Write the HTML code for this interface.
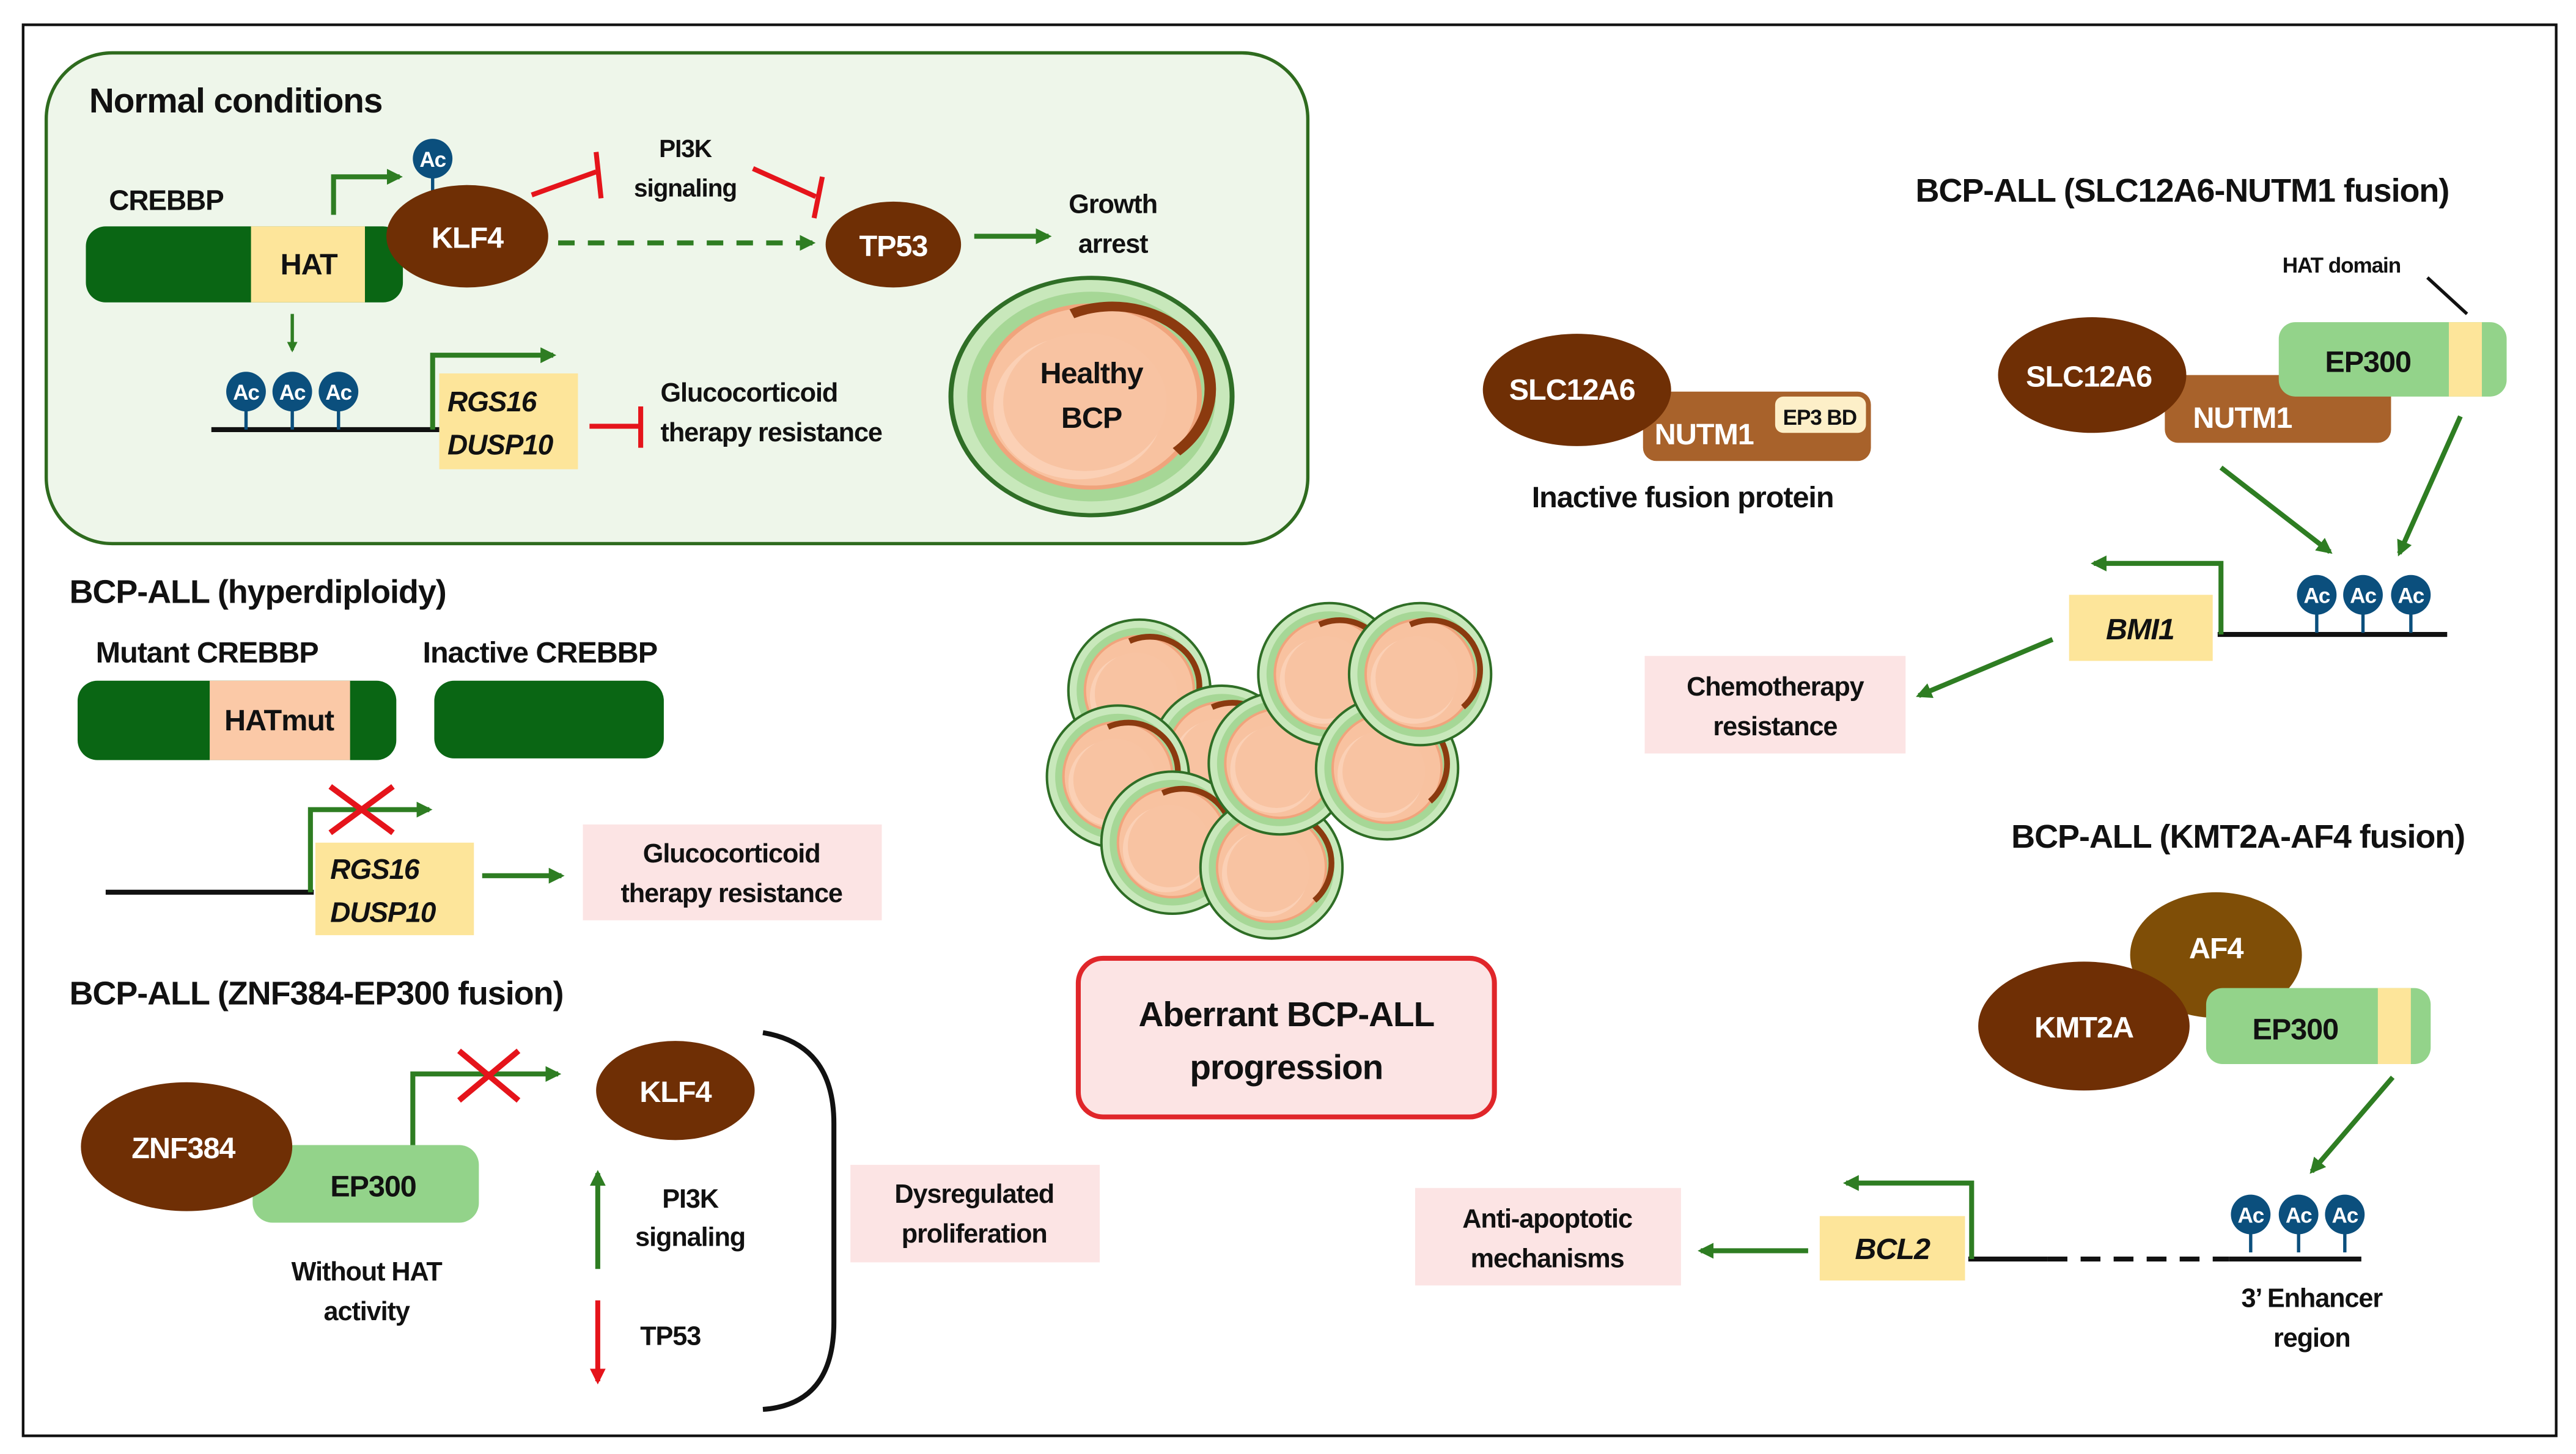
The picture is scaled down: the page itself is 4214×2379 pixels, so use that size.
<!DOCTYPE html>
<html><head><meta charset="utf-8"><style>
html,body{margin:0;padding:0;background:#fff;}
svg{display:block;}
text{font-family:"Liberation Sans Narrow","Liberation Sans",sans-serif;font-weight:bold;fill:#111;letter-spacing:-0.4px;}
.w{fill:#fff;}
.c{text-anchor:middle;}
.i{font-style:italic;}
</style></head><body>
<svg width="4214" height="2379" viewBox="0 0 1560 880" preserveAspectRatio="none" xmlns="http://www.w3.org/2000/svg">
<defs>
<marker id="ag" viewBox="0 0 10 10" refX="8" refY="5" markerWidth="3.2" markerHeight="3.2" orient="auto"><path d="M0,0L10,5L0,10z" fill="#2e7d22"/></marker>
<marker id="ar" viewBox="0 0 10 10" refX="8" refY="5" markerWidth="3.2" markerHeight="3.2" orient="auto"><path d="M0,0L10,5L0,10z" fill="#e5141b"/></marker>
<symbol id="cell" viewBox="-45 -45 90 90" overflow="visible">
<circle r="43" fill="#c8e8bb" stroke="#2f6e26" stroke-width="1.5"/>
<circle r="38" fill="#a6d796"/>
<circle r="33" fill="#f8c2a0" stroke="#f0a47c" stroke-width="1.5"/>
<circle cx="-4" cy="4" r="26" fill="#fbd0b5"/>
<circle cx="-2" cy="2" r="25" fill="#f8c3a2"/>
<path d="M-6,-30 A30 30 0 0 1 26,20" stroke="#8b3a0f" stroke-width="3.5" fill="none"/>
</symbol>
<g id="ac"><line x1="0" y1="0" x2="0" y2="23" stroke="#0b4f7d" stroke-width="2"/><circle r="12" fill="#0b4f7d"/><text class="w c" y="5" font-size="13">Ac</text></g>
</defs>
<rect x="0" y="0" width="1560" height="880" fill="#fff"/>
<rect x="14" y="15" width="1534" height="854" fill="none" stroke="#111" stroke-width="1.6"/>

<rect x="28" y="32" width="764" height="297" rx="40" fill="#eef6ea" stroke="#2e6b1e" stroke-width="2"/>
<text x="54" y="68" font-size="21">Normal conditions</text>
<text x="66" y="127" font-size="17">CREBBP</text>
<rect x="52" y="137" width="192" height="46" rx="12" fill="#0a6614"/>
<rect x="152" y="137" width="69" height="46" fill="#fde59a"/>
<text class="c" x="187" y="166" font-size="18">HAT</text>
<path d="M202,130 V107 H242" stroke="#2e7d22" stroke-width="3" fill="none" marker-end="url(#ag)"/>
<use href="#ac" x="262" y="96"/>
<ellipse cx="283" cy="143" rx="49" ry="31" fill="#6f2f05"/>
<text class="w c" x="283" y="150" font-size="18">KLF4</text>
<line x1="322" y1="118" x2="361" y2="104" stroke="#e5141b" stroke-width="3"/>
<line x1="361" y1="92" x2="364" y2="120" stroke="#e5141b" stroke-width="3"/>
<text class="c" x="415" y="95" font-size="15">PI3K</text>
<text class="c" x="415" y="119" font-size="15">signaling</text>
<line x1="456" y1="102" x2="494" y2="119" stroke="#e5141b" stroke-width="3"/>
<line x1="498" y1="107" x2="493" y2="132" stroke="#e5141b" stroke-width="3"/>
<line x1="338" y1="147" x2="492" y2="147" stroke="#2e7d22" stroke-width="3" stroke-dasharray="10,8" marker-end="url(#ag)"/>
<ellipse cx="541" cy="148" rx="41" ry="26" fill="#6f2f05"/>
<text class="w c" x="541" y="155" font-size="18">TP53</text>
<line x1="590" y1="143" x2="635" y2="143" stroke="#2e7d22" stroke-width="3" marker-end="url(#ag)"/>
<text class="c" x="674" y="129" font-size="16">Growth</text>
<text class="c" x="674" y="153" font-size="16">arrest</text>
<g transform="translate(661,240) scale(1.98,1.67)"><use href="#cell" x="-45" y="-45" width="90" height="90"/></g>
<text class="c" x="661" y="232" font-size="18">Healthy</text>
<text class="c" x="661" y="259" font-size="18">BCP</text>
<line x1="177" y1="190" x2="177" y2="212" stroke="#2e7d22" stroke-width="2" marker-end="url(#ag)"/>
<line x1="128" y1="260" x2="268" y2="260" stroke="#111" stroke-width="3"/>
<use href="#ac" x="149" y="237"/><use href="#ac" x="177" y="237"/><use href="#ac" x="205" y="237"/>
<path d="M262,260 V215 H335" stroke="#2e7d22" stroke-width="3" fill="none" marker-end="url(#ag)"/>
<rect x="266" y="226" width="84" height="58" fill="#fde59a"/>
<text class="i" x="271" y="249" font-size="17">RGS16</text>
<text class="i" x="271" y="275" font-size="17">DUSP10</text>
<line x1="357" y1="258" x2="387" y2="258" stroke="#e5141b" stroke-width="3"/>
<line x1="388" y1="246" x2="388" y2="271" stroke="#e5141b" stroke-width="3"/>
<text x="400" y="243" font-size="16">Glucocorticoid</text>
<text x="400" y="267" font-size="16">therapy resistance</text>

<text x="42" y="365" font-size="20">BCP-ALL (hyperdiploidy)</text>
<text x="58" y="401" font-size="18">Mutant CREBBP</text>
<text x="256" y="401" font-size="18">Inactive CREBBP</text>
<rect x="47" y="412" width="193" height="48" rx="12" fill="#0a6614"/>
<rect x="127" y="412" width="85" height="48" fill="#fbc9a7"/>
<text class="c" x="169" y="442" font-size="18">HATmut</text>
<rect x="263" y="412" width="139" height="47" rx="12" fill="#0a6614"/>
<line x1="64" y1="540" x2="190" y2="540" stroke="#111" stroke-width="3"/>
<path d="M188,540 V490 H260" stroke="#2e7d22" stroke-width="3" fill="none" marker-end="url(#ag)"/>
<path d="M200,476 L238,504 M238,476 L200,504" stroke="#e5141b" stroke-width="3.5"/>
<rect x="191" y="510" width="96" height="56" fill="#fde59a"/>
<text class="i" x="200" y="532" font-size="17">RGS16</text>
<text class="i" x="200" y="558" font-size="17">DUSP10</text>
<line x1="292" y1="530" x2="340" y2="530" stroke="#2e7d22" stroke-width="3" marker-end="url(#ag)"/>
<rect x="353" y="499" width="181" height="58" fill="#fce4e4"/>
<text class="c" x="443" y="522" font-size="16">Glucocorticoid</text>
<text class="c" x="443" y="546" font-size="16">therapy resistance</text>

<text x="42" y="608" font-size="20">BCP-ALL (ZNF384-EP300 fusion)</text>
<rect x="153" y="693" width="137" height="47" rx="12" fill="#93d38a"/>
<ellipse cx="113" cy="694" rx="64" ry="39" fill="#6f2f05"/>
<text class="w c" x="111" y="701" font-size="18">ZNF384</text>
<text class="c" x="226" y="724" font-size="18">EP300</text>
<path d="M250,693 V650 H338" stroke="#2e7d22" stroke-width="3" fill="none" marker-end="url(#ag)"/>
<path d="M278,636 L314,666 M314,636 L278,666" stroke="#e5141b" stroke-width="3.5"/>
<ellipse cx="409" cy="660" rx="48" ry="30" fill="#6f2f05"/>
<text class="w c" x="409" y="667" font-size="18">KLF4</text>
<text class="c" x="222" y="775" font-size="16">Without HAT</text>
<text class="c" x="222" y="799" font-size="16">activity</text>
<line x1="362" y1="768" x2="362" y2="710" stroke="#2e7d22" stroke-width="3" marker-end="url(#ag)"/>
<text class="c" x="418" y="731" font-size="16">PI3K</text>
<text class="c" x="418" y="754" font-size="16">signaling</text>
<line x1="362" y1="787" x2="362" y2="836" stroke="#e5141b" stroke-width="3" marker-end="url(#ar)"/>
<text class="c" x="406" y="814" font-size="16">TP53</text>
<path d="M462,625 Q505,632 505,680 V800 Q505,850 462,853" stroke="#111" stroke-width="3" fill="none"/>
<rect x="515" y="705" width="151" height="59" fill="#fce4e4"/>
<text class="c" x="590" y="728" font-size="16">Dysregulated</text>
<text class="c" x="590" y="752" font-size="16">proliferation</text>

<g>
<use href="#cell" x="645" y="373" width="90" height="90"/>
<use href="#cell" x="695" y="413" width="90" height="90"/>
<use href="#cell" x="632" y="425" width="90" height="90"/>
<use href="#cell" x="665" y="465" width="90" height="90"/>
<use href="#cell" x="725" y="480" width="90" height="90"/>
<use href="#cell" x="730" y="417" width="90" height="90"/>
<use href="#cell" x="760" y="363" width="90" height="90"/>
<use href="#cell" x="795" y="420" width="90" height="90"/>
<use href="#cell" x="815" y="363" width="90" height="90"/>
</g>
<rect x="653" y="580" width="252" height="96" rx="15" fill="#fce4e4" stroke="#e0262a" stroke-width="3"/>
<text class="c" x="779" y="621" font-size="21">Aberrant BCP-ALL</text>
<text class="c" x="779" y="653" font-size="21">progression</text>

<rect x="995" y="237" width="138" height="42" rx="8" fill="#a8622b"/>
<rect x="1075" y="240" width="55" height="22" rx="5" fill="#fdefc8"/>
<text class="c" x="1102" y="257" font-size="13">EP3 BD</text>
<ellipse cx="955" cy="236" rx="57" ry="34" fill="#6f2f05"/>
<text class="w c" x="952" y="242" font-size="18">SLC12A6</text>
<text class="w" x="1002" y="269" font-size="18">NUTM1</text>
<text class="c" x="1019" y="307" font-size="18">Inactive fusion protein</text>

<text x="1160" y="122" font-size="20">BCP-ALL (SLC12A6-NUTM1 fusion)</text>
<text class="c" x="1418" y="165" font-size="13">HAT domain</text>
<line x1="1470" y1="168" x2="1494" y2="190" stroke="#111" stroke-width="2"/>
<rect x="1311" y="227" width="137" height="41" rx="8" fill="#a8622b"/>
<rect x="1380" y="195" width="138" height="45" rx="10" fill="#93d38a"/>
<rect x="1483" y="195" width="20" height="45" fill="#fde59a"/>
<ellipse cx="1267" cy="227" rx="57" ry="35" fill="#6f2f05"/>
<text class="w c" x="1265" y="234" font-size="18">SLC12A6</text>
<text class="w c" x="1358" y="259" font-size="18">NUTM1</text>
<text class="c" x="1434" y="225" font-size="18">EP300</text>
<line x1="1345" y1="283" x2="1411" y2="334" stroke="#2e7d22" stroke-width="3" marker-end="url(#ag)"/>
<line x1="1490" y1="252" x2="1453" y2="335" stroke="#2e7d22" stroke-width="3" marker-end="url(#ag)"/>
<line x1="1343" y1="384" x2="1482" y2="384" stroke="#111" stroke-width="3"/>
<use href="#ac" x="1403" y="360"/><use href="#ac" x="1431" y="360"/><use href="#ac" x="1460" y="360"/>
<path d="M1345,384 V341 H1268" stroke="#2e7d22" stroke-width="3" fill="none" marker-end="url(#ag)"/>
<rect x="1253" y="360" width="87" height="40" fill="#fde59a"/>
<text class="c i" x="1296" y="387" font-size="18">BMI1</text>
<line x1="1243" y1="387" x2="1162" y2="421" stroke="#2e7d22" stroke-width="3" marker-end="url(#ag)"/>
<rect x="996" y="397" width="158" height="59" fill="#fce4e4"/>
<text class="c" x="1075" y="421" font-size="16">Chemotherapy</text>
<text class="c" x="1075" y="445" font-size="16">resistance</text>

<text x="1218" y="513" font-size="20">BCP-ALL (KMT2A-AF4 fusion)</text>
<ellipse cx="1342" cy="578" rx="52" ry="38" fill="#7f4e07"/>
<text class="w c" x="1342" y="580" font-size="18">AF4</text>
<rect x="1336" y="598" width="136" height="46" rx="10" fill="#93d38a"/>
<rect x="1440" y="598" width="20" height="46" fill="#fde59a"/>
<ellipse cx="1262" cy="621" rx="64" ry="39" fill="#6f2f05"/>
<text class="w c" x="1262" y="628" font-size="18">KMT2A</text>
<text class="c" x="1390" y="629" font-size="18">EP300</text>
<line x1="1449" y1="652" x2="1400" y2="709" stroke="#2e7d22" stroke-width="3" marker-end="url(#ag)"/>
<line x1="1192" y1="762" x2="1240" y2="762" stroke="#111" stroke-width="3"/>
<line x1="1240" y1="762" x2="1350" y2="762" stroke="#111" stroke-width="3" stroke-dasharray="12,8"/>
<line x1="1350" y1="762" x2="1430" y2="762" stroke="#111" stroke-width="3"/>
<use href="#ac" x="1363" y="735"/><use href="#ac" x="1392" y="735"/><use href="#ac" x="1420" y="735"/>
<path d="M1194,762 V716 H1118" stroke="#2e7d22" stroke-width="3" fill="none" marker-end="url(#ag)"/>
<rect x="1102" y="736" width="88" height="39" fill="#fde59a"/>
<text class="c i" x="1146" y="762" font-size="18">BCL2</text>
<line x1="1095" y1="757" x2="1030" y2="757" stroke="#2e7d22" stroke-width="3" marker-end="url(#ag)"/>
<rect x="857" y="719" width="161" height="59" fill="#fce4e4"/>
<text class="c" x="937" y="743" font-size="16">Anti-apoptotic</text>
<text class="c" x="937" y="767" font-size="16">mechanisms</text>
<text class="c" x="1400" y="791" font-size="16">3’ Enhancer</text>
<text class="c" x="1400" y="815" font-size="16">region</text>
</svg>
</body></html>
